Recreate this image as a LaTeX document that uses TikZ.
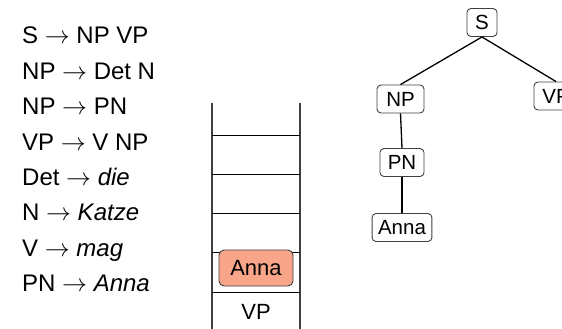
\documentclass[tikz,border=0pt]{standalone}
\usepackage{fontspec}
\setmainfont{Liberation Sans}
\usetikzlibrary{positioning}
\definecolor{salmon}{HTML}{F9A58A}
\definecolor{edgegray}{HTML}{404040}
\newcommand{\prodarrow}{ $\rightarrow$ }

\begin{document}
\begin{tikzpicture}[x=1pt,y=-1pt,
  grammar/.style={anchor=base west,inner sep=0pt,font=\fontsize{24}{28}\selectfont},
  catbox/.style={draw=edgegray,line width=0.9pt,rounded corners=4pt,font=\fontsize{20.5}{24}\selectfont,
                 minimum height=28pt,minimum width=44pt,inner xsep=6pt,inner ysep=0pt},
  branch/.style={line width=1.3pt},
  wall/.style={line width=1.2pt,draw=edgegray},
  shelf/.style={line width=1pt},
  stackitem/.style={draw=edgegray,line width=0.9pt,fill=salmon,rounded corners=5pt,minimum width=74pt,
                    minimum height=36pt,font=\fontsize{22}{26}\selectfont},
  stacklabel/.style={font=\fontsize{22}{26}\selectfont}
]
\useasboundingbox (0,0) rectangle (562,329);

% grammar rules
\node[grammar] (r1) at (22,44)    {S\prodarrow NP VP};
\node[grammar] (r2) at (22,79.3)  {NP\prodarrow Det N};
\node[grammar] (r3) at (22,114.6) {NP\prodarrow PN};
\node[grammar] (r4) at (22,150)   {VP\prodarrow V NP};
\node[grammar] (r5) at (22,185.3) {Det\prodarrow \textit{die}};
\node[grammar] (r6) at (22,220.6) {N\prodarrow \textit{Katze}};
\node[grammar] (r7) at (22,256)   {V\prodarrow \textit{mag}};
\node[grammar] (r8) at (22,291.3) {PN\prodarrow \textit{Anna}};

% stack
\draw[wall] (212,103) -- (212,329);
\draw[wall] (300,103) -- (300,329);
\foreach \y in {135,174,213,252,292}
  \draw[shelf] (212,\y) -- (300,\y);
\node[stackitem]  (top)    at (256,268) {Anna};
\node[stacklabel] (bottom) at (256,312) {VP};

% parse tree
\node[catbox,minimum width=30pt] (s) at (482,22.5) {S};
\node[catbox,minimum width=47pt] (np) at (400.5,99) {NP};
\node[catbox] (vp) at (556,96) {VP};
\node[catbox] (pn) at (402,162.5) {PN};
\node[catbox,minimum width=58pt] (anna) at (402,227.5) {Anna};
\draw[branch] (s.south) -- (np.north);
\draw[branch] (s.south) -- (vp.north);
\draw[branch] (np.south) -- (pn.north);
\draw[branch] (pn.south) -- (anna.north);
\end{tikzpicture}
\end{document}
